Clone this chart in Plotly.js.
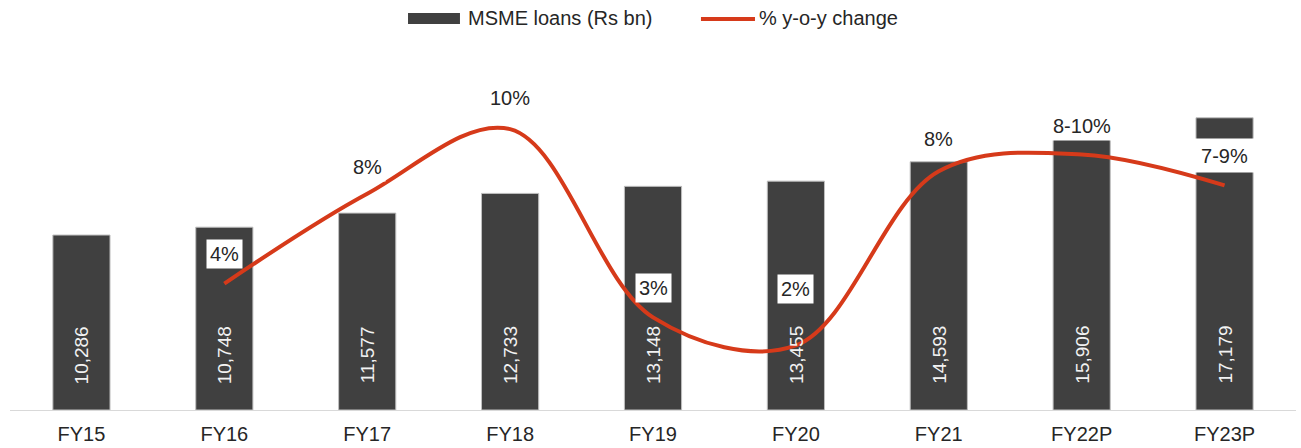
<!DOCTYPE html>
<html>
<head>
<meta charset="utf-8">
<script src="https://cdn.plot.ly/plotly-3.0.1.min.js"></script>
<style>html,body{margin:0;padding:0;background:#fff;}#chart{width:1301px;height:448px;}</style>
</head>
<body>
<div id="chart"></div>
<script>
var categories = ['FY15','FY16','FY17','FY18','FY19','FY20','FY21','FY22P','FY23P'];
var loans = [10286, 10748, 11577, 12733, 13148, 13455, 14593, 15906, 17179];
var loanLabels = ['10,286','10,748','11,577','12,733','13,148','13,455','14,593','15,906','17,179'];
var growthCats = ['FY16','FY17','FY18','FY19','FY20','FY21','FY22P','FY23P'];
var growth = [4.5, 7.7, 10.0, 3.3, 2.3, 8.5, 9.1, 8.0];
var growthLabels = ['4%','8%','10%','3%','2%','8%','8-10%','7-9%'];
var labelShift = [30, 27, 31, 29, 56, 32, 28, 30];
var seriesNames = ['MSME loans (Rs bn)', '% y-o-y change'];

var FONT = 'Arial, "Liberation Sans", sans-serif';
var BAR_COLOR = '#404040';
var LINE_COLOR = '#d63a1a';

var traces = [
  {
    type: 'bar', name: seriesNames[0], x: categories, y: loans,
    marker: {color: BAR_COLOR, line: {color: '#bfbfbf', width: 1}},
    showlegend: false
  },
  {
    type: 'scatter', mode: 'lines', name: seriesNames[1], x: growthCats, y: growth,
    yaxis: 'y2', line: {color: LINE_COLOR, width: 4, shape: 'spline', smoothing: 1},
    showlegend: false
  }
];

var annotations = [];
categories.forEach(function (c, i) {
  annotations.push({
    x: c, y: 0, xref: 'x', yref: 'y', yanchor: 'middle', xanchor: 'center',
    yshift: 55, text: loanLabels[i], textangle: -90, showarrow: false,
    font: {family: FONT, size: 19, color: '#f2f2f2'}
  });
});
growthCats.forEach(function (c, i) {
  var last = i === growthCats.length - 1;
  annotations.push({
    x: c, y: growth[i], xref: 'x', yref: 'y2', yanchor: 'middle', xanchor: 'center',
    yshift: labelShift[i], text: growthLabels[i], showarrow: false,
    bgcolor: '#ffffff', borderpad: 3,
    width: last ? 57 : null, height: last ? 27 : null,
    font: {family: FONT, size: 20, color: '#262626'}
  });
});

// custom legend (paper coords)
annotations.push({
  xref: 'paper', yref: 'paper', x: 0.3546, y: 1.163, xanchor: 'left', yanchor: 'middle',
  text: seriesNames[0], showarrow: false, font: {family: FONT, size: 20, color: '#262626'}
});
annotations.push({
  xref: 'paper', yref: 'paper', x: 0.5809, y: 1.163, xanchor: 'left', yanchor: 'middle',
  text: seriesNames[1], showarrow: false, font: {family: FONT, size: 20, color: '#262626'}
});
var shapes = [
  {type: 'rect', xref: 'paper', yref: 'paper', x0: 0.3095, x1: 0.3499, y0: 1.1454, y1: 1.178,
   fillcolor: BAR_COLOR, line: {width: 0}},
  {type: 'line', xref: 'paper', yref: 'paper', x0: 0.5373, x1: 0.5793, y0: 1.1602, y1: 1.1602,
   line: {color: LINE_COLOR, width: 4}}
];

var layout = {
  width: 1301, height: 448,
  margin: {l: 10, r: 5, t: 73, b: 38},
  paper_bgcolor: '#ffffff', plot_bgcolor: '#ffffff',
  font: {family: FONT, size: 19, color: '#262626'},
  bargap: 0.6,
  showlegend: false,
  xaxis: {
    type: 'category', showgrid: false, zeroline: false,
    showline: true, linecolor: '#d9d9d9', linewidth: 1,
    ticks: '', ticklabelstandoff: 6,
    tickfont: {family: FONT, size: 20, color: '#262626'}
  },
  yaxis: {
    range: [0, 19812], visible: false, showgrid: false, zeroline: false, fixedrange: true
  },
  yaxis2: {
    range: [0, 12.0], overlaying: 'y', side: 'right', visible: false,
    showgrid: false, zeroline: false
  },
  annotations: annotations,
  shapes: shapes
};

Plotly.newPlot('chart', traces, layout, {displayModeBar: false, staticPlot: true});
</script>
</body>
</html>
